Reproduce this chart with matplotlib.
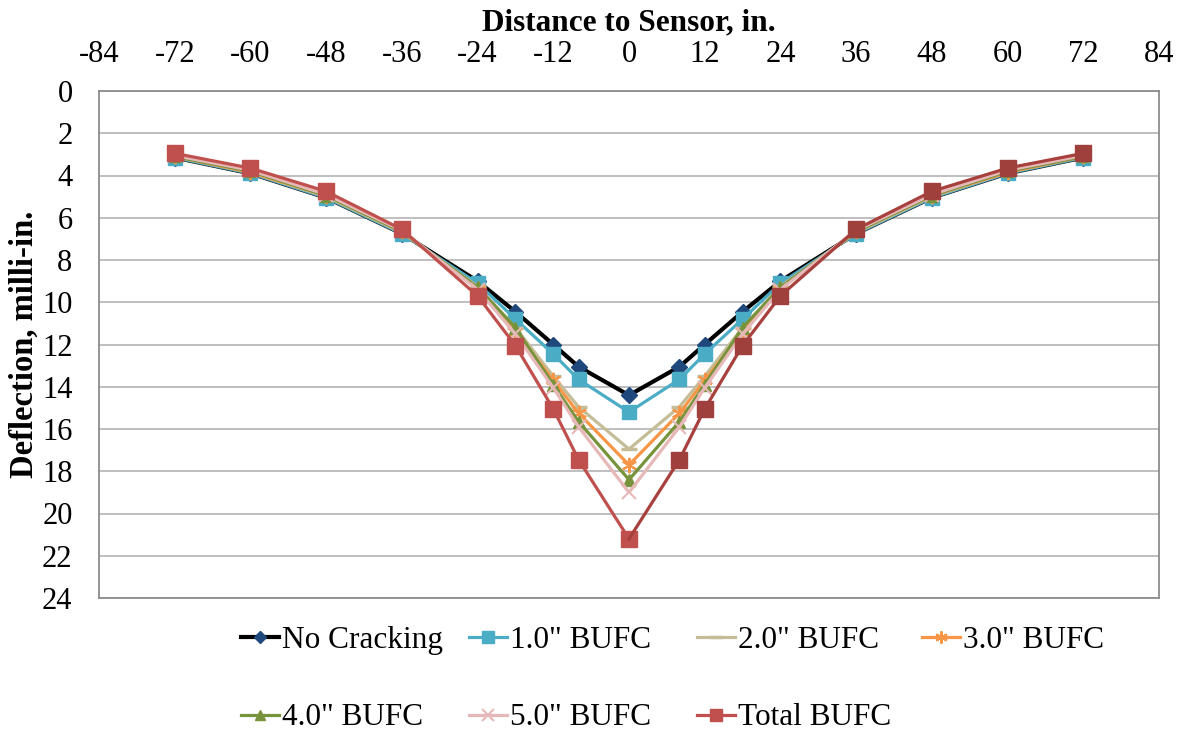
import matplotlib
matplotlib.use("Agg")
import matplotlib.pyplot as plt

plt.rcParams['font.family'] = ['Liberation Serif', 'DejaVu Serif']
plt.rcParams['axes.unicode_minus'] = False

distance = [-72, -60, -48, -36, -24, -18, -12, -8, 0, 8, 12, 18, 24, 36, 48, 60, 72]

no_cracking = [3.15, 3.9, 5.05, 6.75, 9.0, 10.45, 12.0, 13.05, 14.4,
               13.05, 12.0, 10.45, 9.0, 6.75, 5.05, 3.9, 3.15]
bufc_1 = [3.15, 3.9, 5.05, 6.75, 9.1, 10.8, 12.45, 13.65, 15.2,
          13.65, 12.45, 10.8, 9.1, 6.75, 5.05, 3.9, 3.15]
bufc_2 = [3.1, 3.85, 5.0, 6.7, 9.25, 11.2, 13.5, 14.95, 16.95,
          14.95, 13.5, 11.2, 9.25, 6.7, 5.0, 3.85, 3.1]
bufc_3 = [3.1, 3.85, 4.95, 6.65, 9.35, 11.4, 13.7, 15.25, 17.7,
          15.25, 13.7, 11.4, 9.35, 6.65, 4.95, 3.85, 3.1]
bufc_4 = [3.1, 3.8, 4.95, 6.65, 9.3, 11.2, 13.9, 15.65, 18.4,
          15.65, 13.9, 11.2, 9.3, 6.65, 4.95, 3.8, 3.1]
bufc_5 = [3.05, 3.75, 4.9, 6.6, 9.4, 11.5, 14.05, 15.9, 19.0,
          15.9, 14.05, 11.5, 9.4, 6.6, 4.9, 3.75, 3.05]
bufc_total = [2.95, 3.65, 4.75, 6.55, 9.7, 12.05, 15.05, 17.45, 21.2,
              17.45, 15.05, 12.05, 9.7, 6.55, 4.75, 3.65, 2.95]

labels = ['No Cracking', '1.0" BUFC', '2.0" BUFC', '3.0" BUFC',
          '4.0" BUFC', '5.0" BUFC', 'Total BUFC']
x_ticks = list(range(-84, 85, 12))
y_ticks = list(range(0, 25, 2))

fig = plt.figure(figsize=(11.85, 7.36), dpi=100)
ax = fig.add_axes([99/1185, 1-598/736, (1159-99)/1185, (598-91)/736])

h = {}
h[0], = ax.plot(distance, no_cracking, color='black', lw=3.0, marker='D', ms=8,
                mfc='#1F497D', mec='#1F497D', label=labels[0], zorder=3)
h[1], = ax.plot(distance, bufc_1, color='#4BACC6', lw=2.3, marker='s', ms=10,
                mfc='#4BACC6', mec='#4BACC6', label=labels[1], zorder=3)
h[2], = ax.plot(distance, bufc_2, color='#C4BD97', lw=2.3, marker='_', ms=11, mew=2.5,
                mec='#C4BD97', label=labels[2], zorder=3)
h[3], = ax.plot(distance, bufc_3, color='#F79646', lw=2.3, marker=(6, 2, 0), ms=11, mew=1.5,
                mec='#F79646', label=labels[3], zorder=3)
h[4], = ax.plot(distance, bufc_4, color='#77933C', lw=2.3, marker='^', ms=9,
                mfc='#77933C', mec='#77933C', label=labels[4], zorder=3)
h[5], = ax.plot(distance, bufc_5, color='#E6B9B8', lw=2.3, marker='x', ms=10, mew=1.5,
                mec='#E6B9B8', label=labels[5], zorder=3)
n_half = distance.index(0)
h[6], = ax.plot(distance[:n_half + 1], bufc_total[:n_half + 1], color='#C0504D', lw=2.3,
                marker='s', ms=11, mfc='#C0504D', mec='#C0504D', label=labels[6], zorder=4)
ax.plot(distance[n_half:], bufc_total[n_half:], color='#A8403D', lw=2.3,
        marker='s', ms=11, mfc='#A0403C', mec='#A0403C', markevery=list(range(1, len(distance) - n_half)),
        zorder=4)

ax.set_xlim(-84, 84)
ax.set_ylim(24, 0)
ax.set_xticks(x_ticks)
ax.set_yticks(y_ticks)
ax.xaxis.tick_top()
ax.xaxis.set_label_position('top')
ax.tick_params(axis='both', length=0, labelsize=22)
ax.tick_params(axis='x', pad=16)
ax.tick_params(axis='y', pad=19)
ax.grid(axis='y', color='#BFBFBF', lw=1.4, zorder=0)
ax.set_axisbelow(True)
for s in ax.spines.values():
    s.set_color('#8C8C8C')
    s.set_linewidth(1.3)

ax.set_xlabel('Distance to Sensor, in.', fontsize=22.5, fontweight='bold', labelpad=7)
ax.set_ylabel('Deflection, milli-in.', fontsize=23.5, fontweight='bold', labelpad=2)

cols = [[h[0], h[4]], [h[1], h[5]], [h[2], h[6]], [h[3]]]
col_x = [241, 469, 697, 922]
for hs, cx in zip(cols, col_x):
    leg = fig.legend(handles=hs, loc='upper left', bbox_to_anchor=(cx/1185, 1-626/736),
                     frameon=False, fontsize=22.5, handlelength=1.2, handletextpad=0.1,
                     borderpad=0, borderaxespad=0, labelspacing=1.55, markerscale=0.8)

fig.savefig('out.png', dpi=100)
